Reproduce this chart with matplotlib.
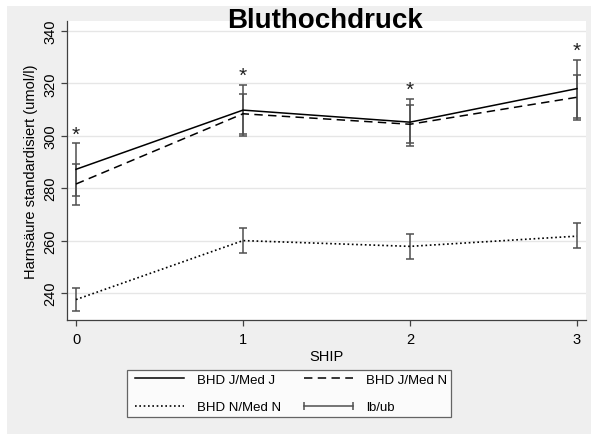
import matplotlib
matplotlib.use("Agg")
import matplotlib.pyplot as plt
from matplotlib.lines import Line2D
from matplotlib.patches import Rectangle
import numpy as np

plt.rcParams['font.family'] = ['Liberation Sans', 'DejaVu Sans']

ship = [0, 1, 2, 3]

# Mittelwerte je Gruppe
jj_mean = [287.2, 309.8, 305.2, 318.0]
jn_mean = [281.6, 308.4, 304.4, 314.7]
nn_mean = [237.5, 260.0, 257.8, 261.7]

# Konfidenzgrenzen (lb/ub)
jj_lb = [277.0, 300.1, 296.1, 306.9]
jj_ub = [297.1, 319.5, 314.2, 329.1]
jn_lb = [273.7, 300.8, 297.3, 306.2]
jn_ub = [289.4, 316.0, 311.6, 323.2]
nn_lb = [233.0, 255.3, 253.1, 257.0]
nn_ub = [241.9, 264.8, 262.4, 266.6]

signif = ['*', '*', '*', '*']

W, H = 591, 435
fig = plt.figure(figsize=(W / 100, H / 100), dpi=100)
fig.patch.set_facecolor('white')
fig.patches.append(Rectangle((7 / W, 0), 1 - 7 / W, 1 - 7 / H,
                             transform=fig.transFigure, facecolor='#efefef',
                             edgecolor='none', zorder=-10))

ax = fig.add_axes([67 / W, 1 - 321 / H, (586 - 67) / W, (321 - 22) / H])
ax.set_facecolor('white')

err_kw = dict(fmt='none', ecolor='#505050', elinewidth=1.1, capsize=3.2, capthick=1.1, zorder=3)
for lo, hi in [(jj_lb, jj_ub), (jn_lb, jn_ub), (nn_lb, nn_ub)]:
    lo = np.array(lo)
    hi = np.array(hi)
    ax.errorbar(ship, (lo + hi) / 2, yerr=(hi - lo) / 2, **err_kw)

ax.plot(ship, jj_mean, color='black', lw=1.1, zorder=4)
ax.plot(ship, jn_mean, color='black', lw=1.1, dashes=(5.5, 3.5), zorder=4)
ax.plot(ship, nn_mean, color='black', lw=1.2, dashes=(1, 1.6), zorder=4)

for x, top, s in zip(ship, jj_ub, signif):
    ax.annotate(s, (x, top), xytext=(0, 0), textcoords='offset points',
                ha='center', va='bottom', fontsize=15, color='#202020')

ax.set_xlim(-0.054, 3.054)
ax.set_ylim(229.7, 343.8)
ax.set_xticks(ship)
ax.set_yticks([240, 260, 280, 300, 320, 340])
ax.yaxis.grid(True, color='#e6e6e6', lw=1.0)
ax.set_axisbelow(True)
for side in ['top', 'right']:
    ax.spines[side].set_visible(False)
for side in ['left', 'bottom']:
    ax.spines[side].set_color('#404040')
    ax.spines[side].set_linewidth(0.9)
ax.tick_params(axis='both', colors='#404040', length=4, width=0.9, labelsize=10.5,
               labelcolor='black')
plt.setp(ax.get_yticklabels(), rotation=90, va='center')
ax.tick_params(axis='y', pad=3)
ax.tick_params(axis='x', pad=5)

ax.set_xlabel('SHIP', fontsize=10.5, labelpad=2)
ax.set_ylabel('Harnsäure standardisiert (umol/l)', fontsize=10.5, labelpad=4)

fig.text(325 / W, 1 - 21 / H, 'Bluthochdruck', ha='center', va='center',
         fontsize=20, fontweight='bold')

handles = [
    Line2D([], [], color='black', lw=1.1),
    Line2D([], [], color='black', lw=1.2, dashes=(1, 1.6)),
    Line2D([], [], color='black', lw=1.1, dashes=(5.5, 3.5)),
    Line2D([], [], color='#505050', lw=1.1, marker='|', markersize=6, markeredgewidth=1.1),
]
labels = ['BHD J/Med J', 'BHD N/Med N', 'BHD J/Med N', 'lb/ub']
leg = fig.legend(handles, labels, ncol=2, loc='center',
                 bbox_to_anchor=(289 / W, 1 - 394.5 / H), fontsize=9.5,
                 frameon=True, fancybox=False, edgecolor='#404040',
                 handlelength=4.3, columnspacing=1.45, handletextpad=0.7,
                 labelspacing=1.15, numpoints=2, borderpad=0.3)
leg.get_frame().set_linewidth(0.9)

fig.savefig('out.png', dpi=100)
